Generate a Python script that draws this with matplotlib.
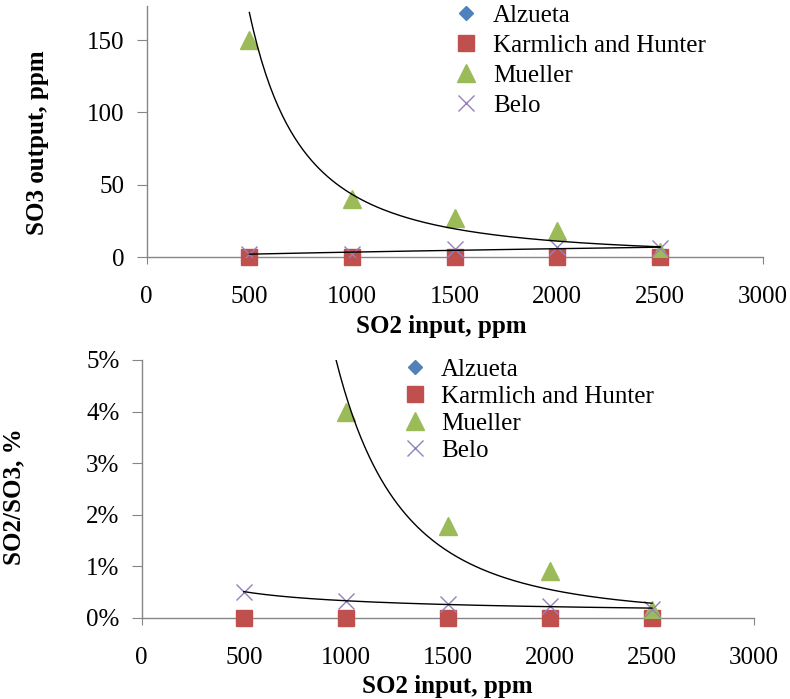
import matplotlib
matplotlib.use('Agg')
import matplotlib.pyplot as plt
import numpy as np
from matplotlib.ticker import PercentFormatter

plt.rcParams['font.family'] = ['Liberation Serif', 'DejaVu Serif']
plt.rcParams['font.size'] = 18

# SO2 input, ppm
so2_input = [500, 1000, 1500, 2000, 2500]

# SO3 output, ppm
karmlich_so3 = [0, 0, 0, 0, 0]
mueller_so3 = [150, 40, 27, 18, 4]
belo_so3 = [2.5, 2.5, 5.5, 7, 6.5]

# SO2/SO3 ratio (fraction)
karmlich_ratio = [0, 0, 0, 0, 0]
mueller_ratio = [0.30, 0.040, 0.0178, 0.0091, 0.0015]
belo_ratio = [0.0050, 0.0032, 0.0027, 0.0023, 0.0017]

labels = ['Alzueta', 'Karmlich and Hunter', 'Mueller', 'Belo']

c_blue = '#4F81BD'
c_red = '#C0504D'
c_green = '#9BBB59'
c_purple = '#9480BC'
c_axis = '#868686'


def power_fit(x, y):
    # Excel-style power trendline, fitted in log space
    x = np.asarray(x, float)
    y = np.asarray(y, float)
    b, lna = np.polyfit(np.log(x), np.log(y), 1)
    xs = np.linspace(x.min(), x.max(), 200)
    return xs, np.exp(lna) * xs ** b


def draw_panel(ax, karm, muel, belo):
    ax.plot([], [], 'D', color=c_blue, markersize=7, label=labels[0])
    ax.plot(so2_input, karm, 's', color=c_red, markersize=12, label=labels[1], clip_on=False, zorder=3)
    ax.plot(so2_input, muel, '^', color=c_green, markersize=13, label=labels[2], zorder=4)
    ax.plot(so2_input, belo, 'x', color=c_purple, markersize=11, markeredgewidth=1.0, label=labels[3], zorder=5)
    for ys in (muel, belo):
        xs, fit = power_fit(so2_input, ys)
        ax.plot(xs, fit, color='black', linewidth=1.0, zorder=6)

    ax.set_xlim(0, 3000)
    ax.set_xticks([0, 500, 1000, 1500, 2000, 2500, 3000])
    for s in ('top', 'right'):
        ax.spines[s].set_visible(False)
    for s in ('left', 'bottom'):
        ax.spines[s].set_color(c_axis)
        ax.spines[s].set_linewidth(1.0)
    ax.tick_params(axis='x', direction='out', length=5, color=c_axis, pad=16)
    ax.tick_params(axis='y', direction='out', length=7, color=c_axis, pad=9)


fig = plt.figure(figsize=(7.9, 6.99), dpi=100)

ax1 = fig.add_axes([0.1857, 0.6319, 0.7797, 0.3595])
draw_panel(ax1, karmlich_so3, mueller_so3, belo_so3)
ax1.set_ylim(0, 173.5)
ax1.set_yticks([0, 50, 100, 150])
ax1.set_xlabel('SO2 input, ppm', fontweight='bold')
ax1.xaxis.set_label_coords(0.479, -0.228)
ax1.set_ylabel('SO3 output, ppm', fontweight='bold')
ax1.yaxis.set_label_coords(-0.158, 0.455)
ax1.legend(loc='upper left', bbox_to_anchor=(453.5 / 790, 1 - 4.5 / 699), bbox_transform=fig.transFigure,
           frameon=False, borderpad=0, borderaxespad=0, handlelength=1.0, handletextpad=0.58,
           labelspacing=0.3)

ax2 = fig.add_axes([0.1794, 0.1163, 0.7751, 0.3687])
draw_panel(ax2, karmlich_ratio, mueller_ratio, belo_ratio)
ax2.set_ylim(0, 0.05)
ax2.set_yticks([0, 0.01, 0.02, 0.03, 0.04, 0.05])
ax2.yaxis.set_major_formatter(PercentFormatter(xmax=1, decimals=0))
ax2.set_xlabel('SO2 input, ppm', fontweight='bold')
ax2.xaxis.set_label_coords(0.499, -0.222)
ax2.set_ylabel('SO2/SO3, %', fontweight='bold')
ax2.yaxis.set_label_coords(-0.19, 0.468)
ax2.legend(loc='upper left', bbox_to_anchor=(402.5 / 790, 1 - 358.6 / 699), bbox_transform=fig.transFigure,
           frameon=False, borderpad=0, borderaxespad=0, handlelength=1.0, handletextpad=0.54,
           labelspacing=0.18)

fig.savefig('out.png', dpi=100)
